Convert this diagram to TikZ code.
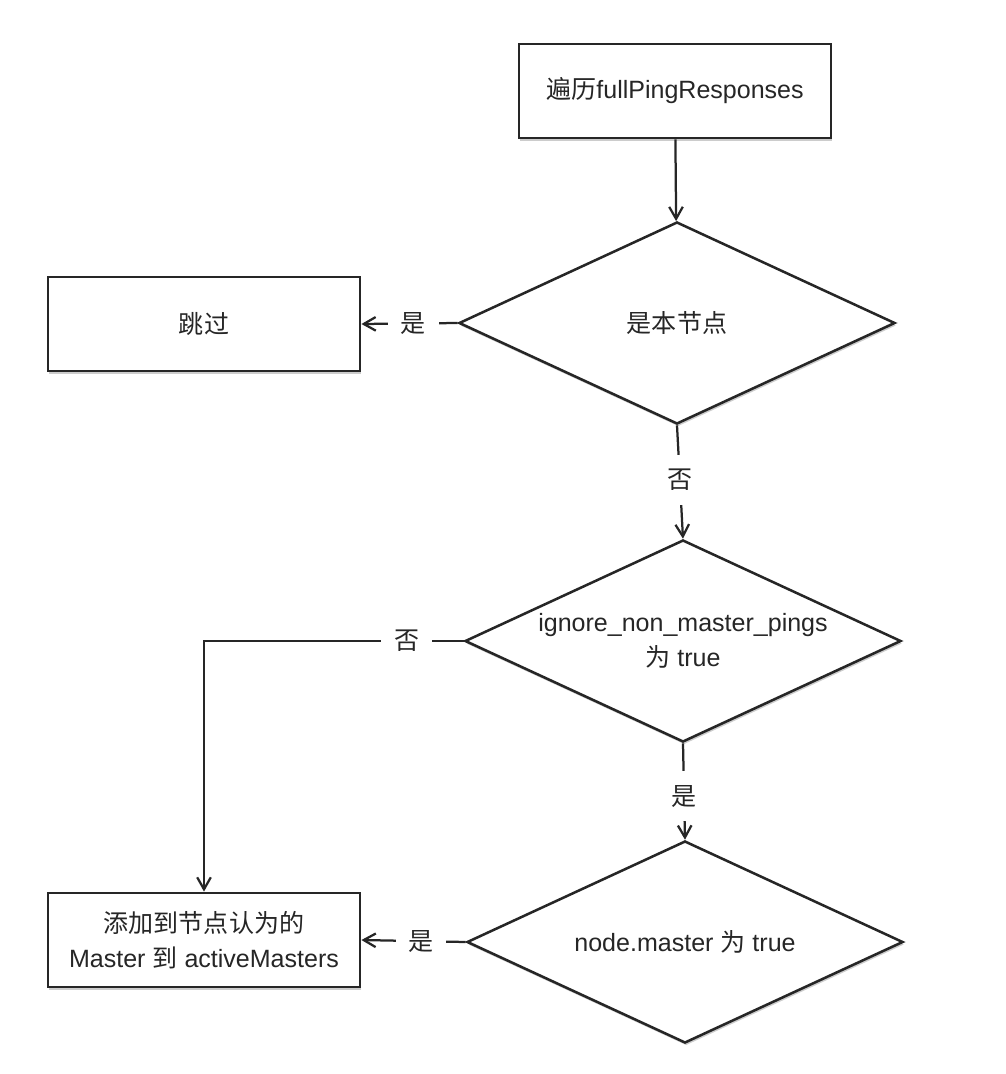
\documentclass[tikz,border=0pt]{standalone}
\usepackage{fontspec}
\setmainfont{Liberation Sans}
\newfontfamily\cjk{Noto Sans CJK SC}
\usetikzlibrary{shapes.geometric, arrows.meta, shadows}

\newcommand{\zh}[1]{{\cjk #1}}

\tikzset{
	box/.style={draw=black!85, line width=2pt, fill=white, align=center,
		minimum width=7.8cm, minimum height=2.35cm,
		drop shadow={opacity=0.4, shadow xshift=1pt, shadow yshift=-1.8pt}},
	decision/.style={diamond, aspect=2.16, draw=black!85, line width=1.8pt, fill=white, align=center,
		inner sep=0pt, minimum width=10.9cm, minimum height=5.05cm,
		drop shadow={opacity=0.4, shadow xshift=0.8pt, shadow yshift=-1.8pt}},
	flow/.style={draw=black!85, line width=1.6pt, -{Straight Barb[length=3mm, width=3.4mm]}},
	answer/.style={fill=white, inner xsep=9pt, inner ysep=10pt},
}

\begin{document}
\begin{tikzpicture}[x=0.025cm, y=-0.025cm, font=\fontsize{17.8pt}{25pt}\selectfont, text=black!85]
		\useasboundingbox (0, 0) rectangle (1006, 1074);

		% main column
		\node[box] (start) at (675, 91) {\zh{遍历}fullPingResponses};
		\node[decision] (self) at (677, 323) {\zh{是本节点}};
		\node[decision] (ignore) at (683, 641) {ignore\_non\_master\_pings\\\zh{为} true};
		\node[decision] (master) at (685, 942) {node.master \zh{为} true};

		% left column
		\node[box] (skip) at (204, 324) {\zh{跳过}};
		\node[box] (add) at (204, 940) {\zh{添加到节点认为的}\\Master \zh{到} activeMasters};

		% connectors
		\draw[flow] (start) -- (self);
		\draw[flow] (self.west) -- node[answer, pos=0.46] {\zh{是}} (skip.east);
		\draw[flow] (self.south) -- node[answer, pos=0.48] {\zh{否}} (ignore.north);
		\draw[flow] (ignore.west) -| node[answer, pos=0.11] {\zh{否}} (add.north);
		\draw[flow] (ignore.south) -- node[answer, pos=0.55] {\zh{是}} (master.north);
		\draw[flow] (master.west) -- node[answer, pos=0.43] {\zh{是}} (add.east);
	\end{tikzpicture}
\end{document}
